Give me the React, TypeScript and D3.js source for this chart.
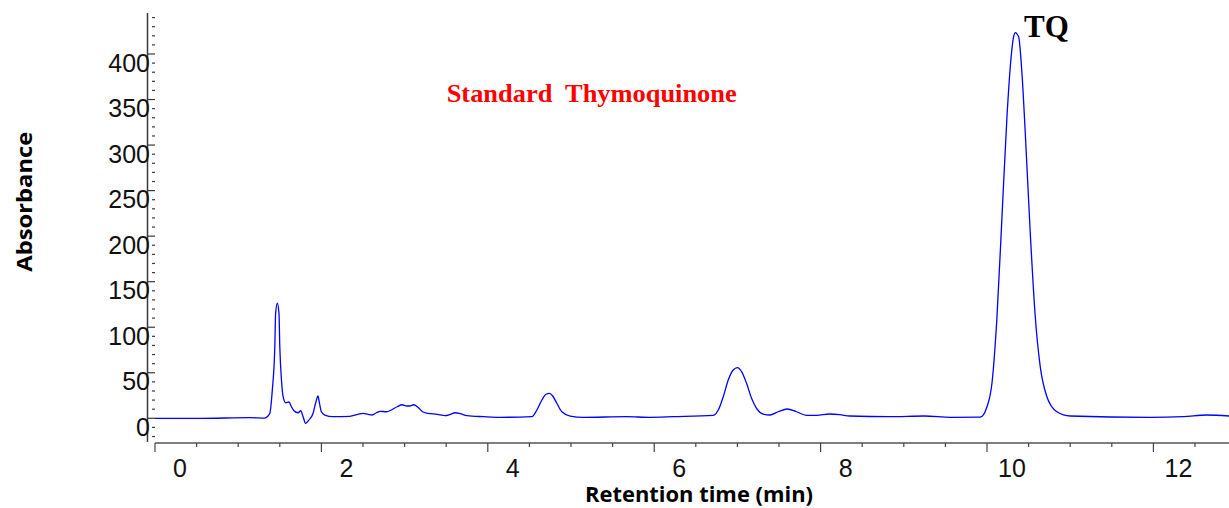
import React from "react";
import { scaleLinear, line, curveMonotoneX, range } from "d3";

// chromatogram: retention time (min) and absorbance
const retention = [
  0, 0.54, 1.14, 1.32, 1.34, 1.38, 1.41, 1.44, 1.45, 1.47, 1.49, 1.5, 1.52,
  1.54, 1.57, 1.61, 1.64, 1.67, 1.72, 1.75, 1.78, 1.81, 1.85, 1.9, 1.93, 1.96,
  1.97, 2.0, 2.04, 2.14, 2.34, 2.44, 2.5, 2.56, 2.61, 2.66, 2.71, 2.78, 2.84,
  2.91, 2.97, 3.03, 3.06, 3.11, 3.16, 3.22, 3.28, 3.39, 3.49, 3.55, 3.61, 3.67,
  3.75, 3.95, 4.15, 4.53, 4.59, 4.65, 4.7, 4.74, 4.78, 4.83, 4.89, 4.99, 5.15,
  5.67, 5.95, 6.23, 6.71, 6.77, 6.83, 6.89, 6.95, 7.0, 7.05, 7.11, 7.17, 7.23,
  7.31, 7.39, 7.49, 7.6, 7.71, 7.83, 7.95, 8.11, 8.23, 8.35, 8.83, 9.25, 9.56,
  9.92, 10.0, 10.06, 10.12, 10.18, 10.24, 10.28, 10.32, 10.34, 10.38, 10.42,
  10.46, 10.52, 10.58, 10.64, 10.72, 10.84, 11.0, 11.96, 12.36, 12.64, 12.91,
];
const absorbance = [
  0, 0, 0.7, 0.3, 1.1, 5.5, 31.1, 78.6, 115.3, 126.3, 115.3, 78.6, 42.1, 23.7,
  17.1, 17.9, 12.7, 8.3, 6.1, 8.3, 1.8, -5.5, -1.9, 5.5, 16.5, 24.5, 20.1, 7.2,
  3.6, 1.8, 2.2, 4.4, 5.5, 4.4, 3.6, 6.1, 7.7, 7.2, 9.1, 12.7, 14.9, 13.5, 13.5,
  14.9, 12.1, 6.9, 5.5, 4.4, 2.9, 4.4, 6.1, 5.1, 2.9, 1.8, 1.1, 1.8, 9.1, 20.1,
  26.4, 27.4, 24.5, 16.5, 7.2, 2.5, 1.1, 1.8, 1.1, 1.8, 3.3, 9.1, 23.7, 42.1,
  53.0, 55.6, 51.2, 38.4, 22.0, 11.0, 4.7, 3.6, 7.2, 10.2, 7.2, 3.3, 3.3, 4.7,
  4.0, 2.5, 1.8, 2.5, 1.1, 1.4, 12.7, 38.8, 111.5, 221.3, 331.1, 386.0, 419.0,
  423.4, 419.0, 379.1, 313.2, 203.4, 111.5, 56.7, 23.7, 7.2, 2.5, 1.1, 1.8,
  3.6, 2.5,
];

const xTickValues = [0, 2, 4, 6, 8, 10, 12];
const yTickValues = [0, 50, 100, 150, 200, 250, 300, 350, 400];

const title = "Standard  Thymoquinone";
const peakLabel = "TQ";
const xTitle = "Retention time (min)";
const yTitle = "Absorbance";

const width = 1229;
const height = 508;
const axisColor = "#3a3a3a";

const App = () => {
  const xScale = scaleLinear().domain([0, 12]).range([155, 1153.4]);
  const yScale = scaleLinear().domain([0, 400]).range([418.3, 54]);

  const xMax = xScale.invert(width);
  const xMinor = range(0, xMax, 0.5);
  const yMinor = range(-20, 441, 10);

  const points = retention.map((t, i) => [t, absorbance[i]]);
  const path = line()
    .x((d) => xScale(d[0]))
    .y((d) => yScale(d[1]))
    .curve(curveMonotoneX)(points);

  const axisY = 443;
  const yAxisX = 147.5;

  return (
    <svg
      width={width}
      height={height}
      style={{ position: "absolute", left: 0, top: 0, background: "#fff" }}
    >
      {/* y axis */}
      <line x1={yAxisX} x2={yAxisX} y1={13} y2={442} stroke={axisColor} strokeWidth={1.5} />
      {yMinor.map((v) => {
        const major = v % 50 === 0;
        return (
          <line
            key={v}
            x1={major ? 148 : 152}
            x2={155}
            y1={yScale(v)}
            y2={yScale(v)}
            stroke={axisColor}
            strokeWidth={1.2}
          />
        );
      })}
      {yTickValues.map((v) => (
        <text
          key={v}
          x={150}
          y={yScale(v) + 17.5}
          textAnchor="end"
          fontFamily="'Liberation Sans', Arial, sans-serif"
          fontSize={25}
          fill="#111"
        >
          {v}
        </text>
      ))}

      {/* x axis */}
      <line x1={155} x2={width} y1={axisY} y2={axisY} stroke="#555" strokeWidth={1.5} />
      {xMinor.map((v) => {
        const major = v % 2 === 0;
        return (
          <line
            key={v}
            x1={xScale(v)}
            x2={xScale(v)}
            y1={axisY}
            y2={axisY + (major ? 9 : 4)}
            stroke="#444"
            strokeWidth={1.2}
          />
        );
      })}
      {xTickValues.map((v) => (
        <text
          key={v}
          x={xScale(v) + 25}
          y={477}
          textAnchor="middle"
          fontFamily="'Liberation Sans', Arial, sans-serif"
          fontSize={25}
          fill="#111"
        >
          {v}
        </text>
      ))}

      <text
        x={699}
        y={501.5}
        textAnchor="middle"
        fontFamily="'Open Sans', sans-serif"
        fontWeight="bold"
        fontSize={21}
        textLength={228}
        lengthAdjust="spacingAndGlyphs"
      >
        {xTitle}
      </text>
      <text
        transform="translate(31.5,201.7) rotate(-90)"
        textAnchor="middle"
        fontFamily="'Open Sans', sans-serif"
        fontWeight="bold"
        fontSize={21}
        textLength={140}
        lengthAdjust="spacingAndGlyphs"
      >
        {yTitle}
      </text>

      {/* trace */}
      <path d={path} fill="none" stroke="#0000ff" strokeWidth={1.3} />

      <text
        x={446.7}
        y={101.7}
        fontFamily="'Liberation Serif', 'Times New Roman', serif"
        fontWeight="bold"
        fontSize={26}
        fill="#ff0000"
        textLength={290}
        lengthAdjust="spacingAndGlyphs"
        style={{ whiteSpace: "pre" }}
      >
        {title}
      </text>
      <text
        x={1024}
        y={37}
        fontFamily="'Liberation Serif', 'Times New Roman', serif"
        fontWeight="bold"
        fontSize={31}
        fill="#000"
      >
        {peakLabel}
      </text>
    </svg>
  );
};

export default App;
